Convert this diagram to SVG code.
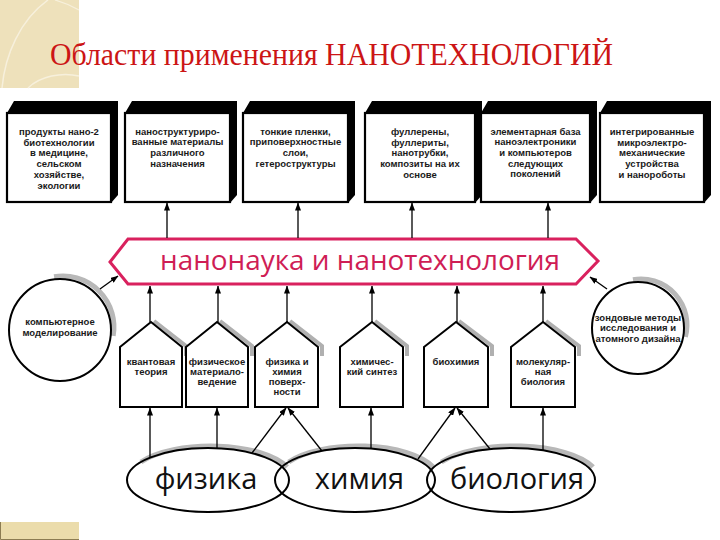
<svg xmlns="http://www.w3.org/2000/svg" width="720" height="540" viewBox="0 0 720 540">
<defs>
<style>
.t{font-family:"Liberation Sans",Arial,sans-serif;font-size:9.5px;font-weight:bold;fill:#1a1a1a;text-anchor:middle}
.front{fill:#fff;stroke:#000;stroke-width:2.2}
.side{fill:#000}
.pent{fill:#fff;stroke:#000;stroke-width:2}
.pshadow{fill:none;stroke:#b0b0b0;stroke-width:4}
.con{stroke:#000;stroke-width:1.3;fill:none}
.arr{marker-end:url(#ah)}
.big{font-family:"Open Sans","Noto Sans","Liberation Sans",sans-serif;font-size:29px;fill:#111;text-anchor:middle}
.sh{fill:none;stroke:#b8b8b8;stroke-width:5}
</style>
<marker id="ah" markerUnits="userSpaceOnUse" markerWidth="8" markerHeight="6" refX="7.5" refY="3" orient="auto">
<path d="M0,0 L8,3 L0,6 z" fill="#000"/>
</marker>
</defs>
<rect width="720" height="540" fill="#fff"/>
<g id="deco">
<rect x="0" y="0" width="79" height="88" fill="#eee1bb"/>
<path d="M48,0 C20,20 5,55 2,88" fill="none" stroke="#f7f0dc" stroke-width="1.5"/>
<path d="M28,88 C40,76 62,72 79,76" fill="none" stroke="#f7f0dc" stroke-width="1.5"/>
<path d="M79,10 C70,5 62,2 55,0" fill="none" stroke="#f7f0dc" stroke-width="1.2"/>
<rect x="0" y="522" width="79" height="18" fill="#ebdcab"/>
<path d="M0.5,522 V539.5 H79" fill="none" stroke="#8c7c52" stroke-width="1"/>
</g>
<text id="title" x="50" y="65" font-family="'Liberation Serif','Times New Roman',serif" font-size="31" fill="#cc1515" textLength="563" lengthAdjust="spacingAndGlyphs">Области применения НАНОТЕХНОЛОГИЙ</text>

<g id="box1">
<polygon class="side" points="7,113 14,101 118,101 118,195 111,203 111,113"/>
<rect class="front" x="7" y="113" width="104" height="89"/>
<text class="t" x="59" y="135"><tspan x="59">продукты нано-2</tspan><tspan x="59" dy="10.7">биотехнологии</tspan><tspan x="59" dy="10.7">в медицине,</tspan><tspan x="59" dy="10.7">сельском</tspan><tspan x="59" dy="10.7">хозяйстве,</tspan><tspan x="59" dy="10.7">экологии</tspan></text>
</g>
<g id="box2">
<polygon class="side" points="125,113 132,101 237,101 237,195 230,203 230,113"/>
<rect class="front" x="125" y="113" width="105" height="89"/>
<text class="t" x="177.5" y="134.5"><tspan x="177.5">наноструктуриро-</tspan><tspan x="177.5" dy="10.7">ванные материалы</tspan><tspan x="177.5" dy="10.7">различного</tspan><tspan x="177.5" dy="10.7">назначения</tspan></text>
</g>
<g id="box3">
<polygon class="side" points="243,113 250,101 355,101 355,195 348,203 348,113"/>
<rect class="front" x="243" y="113" width="105" height="89"/>
<text class="t" x="295.5" y="134.5"><tspan x="295.5">тонкие пленки,</tspan><tspan x="295.5" dy="10.7">приповерхностные</tspan><tspan x="295.5" dy="10.7">слои,</tspan><tspan x="295.5" dy="10.7">гетероструктуры</tspan></text>
</g>
<g id="box4">
<polygon class="side" points="365,113 372,101 482,101 482,195 475,203 475,113"/>
<rect class="front" x="365" y="113" width="110" height="89"/>
<text class="t" x="420" y="135"><tspan x="420">фуллерены,</tspan><tspan x="420" dy="10.7">фуллериты,</tspan><tspan x="420" dy="10.7">нанотрубки,</tspan><tspan x="420" dy="10.7">композиты на их</tspan><tspan x="420" dy="10.7">основе</tspan></text>
</g>
<g id="box5">
<polygon class="side" points="481,113 488,101 597,101 597,195 590,203 590,113"/>
<rect class="front" x="481" y="113" width="109" height="89"/>
<text class="t" x="535.5" y="134.5"><tspan x="535.5">элементарная база</tspan><tspan x="535.5" dy="10.7">наноэлектроники</tspan><tspan x="535.5" dy="10.7">и компьютеров</tspan><tspan x="535.5" dy="10.7">следующих</tspan><tspan x="535.5" dy="10.7">поколений</tspan></text>
</g>
<g id="box6">
<polygon class="side" points="600,113 607,101 711,101 711,195 704,203 704,113"/>
<rect class="front" x="600" y="113" width="104" height="89"/>
<text class="t" x="652" y="135"><tspan x="652">интегрированные</tspan><tspan x="652" dy="10.7">микроэлектро-</tspan><tspan x="652" dy="10.7">механические</tspan><tspan x="652" dy="10.7">устройства</tspan><tspan x="652" dy="10.7">и нанороботы</tspan></text>
</g>

<g id="banner">
<polygon points="110,262 128,239 576,239 598,261 576,284 128,284" fill="#fff" stroke="#d9215e" stroke-width="3"/>
<text x="360" y="270" font-family="'Open Sans','Noto Sans','Liberation Sans',sans-serif" font-size="28" fill="#cf1d55" text-anchor="middle" textLength="400" lengthAdjust="spacingAndGlyphs">нанонаука и нанотехнология</text>
</g>

<g id="circleLeft">
<path class="sh" d="M54.1,276.8 A51,51 0 0 1 113.2,335.9"/>
<circle cx="60" cy="330" r="51" fill="#fff" stroke="#000" stroke-width="2"/>
<text class="t" x="60" y="325"><tspan x="60">компьютерное</tspan><tspan x="60" dy="10.5">моделирование</tspan></text>
</g>
<g id="circleRight">
<path class="sh" d="M633,279.7 A46,46 0 0 1 685.4,336.9"/>
<circle cx="638" cy="328" r="46" fill="#fff" stroke="#000" stroke-width="2"/>
<text class="t" x="638" y="320.5"><tspan x="638">зондовые методы</tspan><tspan x="638" dy="10.5">исследования и</tspan><tspan x="638" dy="10.5">атомного дизайна</tspan></text>
</g>

<g id="pent1">
<polyline class="pshadow" points="154,321 186,346 186,356"/>
<polygon class="pent" points="120,347 151,322 182,347 182,407 120,407"/>
<text class="t" x="151" y="365"><tspan x="151">квантовая</tspan><tspan x="151" dy="10">теория</tspan></text>
</g>
<g id="pent2">
<polyline class="pshadow" points="220,321 252,346 252,356"/>
<polygon class="pent" points="186,347 217,322 248,347 248,407 186,407"/>
<text class="t" x="217" y="365"><tspan x="217">физическое</tspan><tspan x="217" dy="10">материало-</tspan><tspan x="217" dy="10">ведение</tspan></text>
</g>
<g id="pent3">
<polyline class="pshadow" points="290,321 322,346 322,356"/>
<polygon class="pent" points="255,347 287,322 318,347 318,407 255,407"/>
<text class="t" x="287" y="365"><tspan x="287">физика и</tspan><tspan x="287" dy="10">химия</tspan><tspan x="287" dy="10">поверх-</tspan><tspan x="287" dy="10">ности</tspan></text>
</g>
<g id="pent4">
<polyline class="pshadow" points="375,321 407,346 407,356"/>
<polygon class="pent" points="340,347 372,322 403,347 403,407 340,407"/>
<text class="t" x="372" y="365"><tspan x="372">химичес-</tspan><tspan x="372" dy="10">кий синтез</tspan></text>
</g>
<g id="pent5">
<polyline class="pshadow" points="459,321 492,346 492,356"/>
<polygon class="pent" points="424,347 456,322 488,347 488,407 424,407"/>
<text class="t" x="456" y="365">биохимия</text>
</g>
<g id="pent6">
<polyline class="pshadow" points="546,321 579,346 579,356"/>
<polygon class="pent" points="511,347 543,322 575,347 575,407 511,407"/>
<text class="t" x="543" y="365"><tspan x="543">молекуляр-</tspan><tspan x="543" dy="10">ная</tspan><tspan x="543" dy="10">биология</tspan></text>
</g>

<g id="ellipses">
<path class="sh" d="M140.9,462 A81,32 0 0 1 287.1,467"/>
<path class="sh" d="M288.7,462 A80,32 0 0 1 433.2,467"/>
<path class="sh" d="M441.3,462 A84,32 0 0 1 593,467"/>
<g id="fizika">
<ellipse cx="208" cy="480" rx="81" ry="32" fill="none" stroke="#000" stroke-width="2"/>
<text class="big" x="206" y="489">физика</text>
</g>
<g id="himiya">
<ellipse cx="355" cy="480" rx="80" ry="32" fill="none" stroke="#000" stroke-width="2"/>
<text class="big" x="359.5" y="489">химия</text>
</g>
<g id="biologiya">
<ellipse cx="511" cy="480" rx="84" ry="32" fill="none" stroke="#000" stroke-width="2"/>
<text class="big" x="517" y="489">биология</text>
</g>
</g>

<g id="connectors">
<line class="con arr" x1="167" y1="238" x2="167" y2="203"/>
<line class="con arr" x1="298" y1="238" x2="298" y2="203"/>
<line class="con arr" x1="412" y1="238" x2="412" y2="203"/>
<line class="con arr" x1="548" y1="238" x2="548" y2="203"/>
<line class="con arr" x1="150" y1="322" x2="150" y2="286"/>
<line class="con arr" x1="218" y1="322" x2="218" y2="286"/>
<line class="con arr" x1="287" y1="322" x2="287" y2="286"/>
<line class="con arr" x1="372" y1="322" x2="372" y2="286"/>
<line class="con arr" x1="457" y1="322" x2="457" y2="286"/>
<line class="con arr" x1="543" y1="322" x2="543" y2="286"/>
<line class="con arr" x1="100" y1="289" x2="118" y2="276"/>
<line class="con arr" x1="607" y1="289" x2="590" y2="277"/>
<line class="con arr" x1="150" y1="457" x2="150" y2="408"/>
<line class="con arr" x1="217" y1="448" x2="217" y2="408"/>
<line class="con arr" x1="252" y1="453" x2="286" y2="408"/>
<line class="con arr" x1="322" y1="451" x2="288" y2="408"/>
<line class="con arr" x1="371" y1="448" x2="371" y2="408"/>
<line class="con arr" x1="418" y1="459" x2="455" y2="408"/>
<line class="con arr" x1="490" y1="449" x2="457" y2="408"/>
<line class="con arr" x1="543" y1="450" x2="543" y2="408"/>
</g>
</svg>
